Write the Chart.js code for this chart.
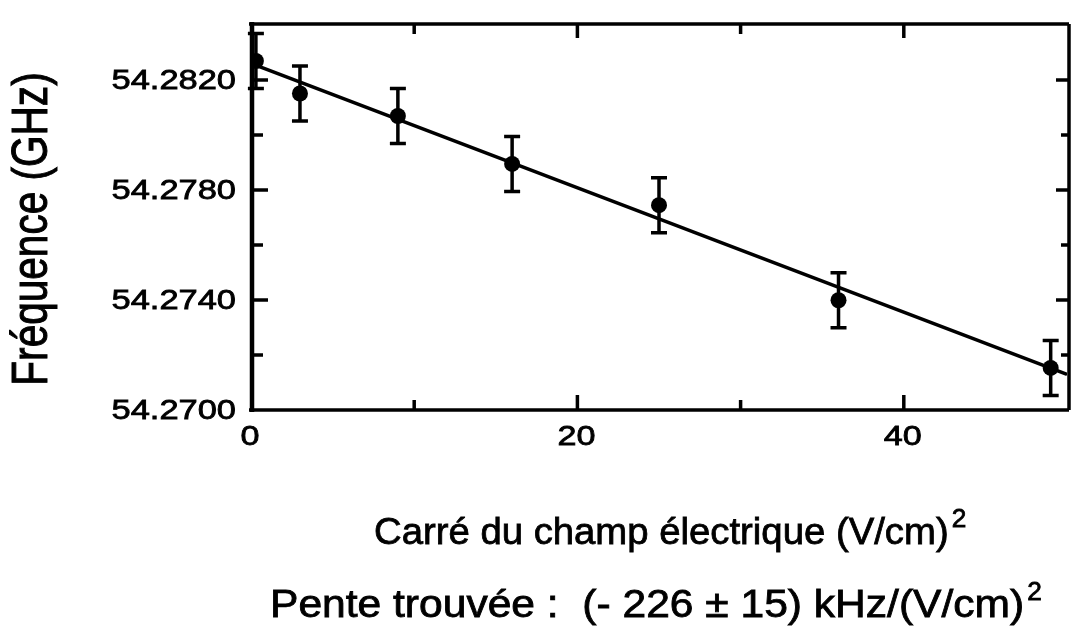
<!DOCTYPE html>
<html>
<head>
<meta charset="utf-8">
<script src="https://cdn.jsdelivr.net/npm/chart.js@4.4.0/dist/chart.umd.min.js"></script>
<style>
  html, body { margin: 0; padding: 0; background: #fff; overflow: hidden; }
  canvas { display: block; }
</style>
</head>
<body>
<canvas id="starkChart" width="1075" height="642"></canvas>
<script>
// Squared field (V/cm)^2 and measured line frequency (GHz)
const fieldSq = [0.3, 3, 9, 16, 25, 36, 49];
const freq = [54.28269, 54.28151, 54.28069, 54.27895, 54.27745, 54.27399, 54.27153];
const freqErr = [0.001, 0.001, 0.001, 0.001, 0.001, 0.001, 0.001];

// Linear fit, slope in kHz/(V/cm)^2
const fitSlopeKHz = -226;
const fitSlopeErr = 15;
const fitIntercept = 54.2826;
const fitRange = [0, 50];

// Axis ticks
const xLabelTicks = [0, 20, 40];
const xMajorTicks = [20, 40];
const xMinorTicks = [10, 30];
const yMajorTicks = [54.270, 54.274, 54.278, 54.282];
const yMinorTicks = [54.272, 54.276, 54.280];

const FONT = '"Liberation Sans", Arial, Helvetica, sans-serif';

// Text helper: horizontal stretch plus a light stroke to thicken glyphs
function drawText(ctx, str, x, y, size, sx, align) {
    ctx.save();
    ctx.translate(x, y);
    ctx.scale(sx, 1);
    ctx.font = size + 'px ' + FONT;
    ctx.textAlign = align;
    ctx.textBaseline = 'alphabetic';
    ctx.fillStyle = '#000';
    ctx.strokeStyle = '#000';
    ctx.lineWidth = 0.8;
    ctx.fillText(str, 0, 0);
    ctx.strokeText(str, 0, 0);
    ctx.restore();
}

function textWidth(ctx, str, size, sx) {
    ctx.save();
    ctx.font = size + 'px ' + FONT;
    const w = ctx.measureText(str).width * sx;
    ctx.restore();
    return w;
}

// Vertical error bars with caps
const errorBars = {
    id: 'errorBars',
    afterDatasetsDraw(chart) {
        const { ctx, scales: { x, y } } = chart;
        ctx.save();
        ctx.strokeStyle = '#000';
        ctx.lineWidth = 3.5;
        fieldSq.forEach((f, i) => {
            const px = x.getPixelForValue(f);
            const top = y.getPixelForValue(freq[i] + freqErr[i]);
            const bot = y.getPixelForValue(freq[i] - freqErr[i]);
            ctx.beginPath();
            ctx.moveTo(px, top); ctx.lineTo(px, bot);
            ctx.moveTo(px - 8, top); ctx.lineTo(px + 8, top);
            ctx.moveTo(px - 8, bot); ctx.lineTo(px + 8, bot);
            ctx.stroke();
        });
        ctx.restore();
    }
};

// Box frame, inward ticks, tick labels and titles
const frame = {
    id: 'frame',
    afterDraw(chart) {
        const { ctx, chartArea: a, scales: { x, y } } = chart;
        ctx.save();
        ctx.strokeStyle = '#000';

        const line = (x1, y1, x2, y2, w) => {
            ctx.lineWidth = w;
            ctx.beginPath();
            ctx.moveTo(x1, y1);
            ctx.lineTo(x2, y2);
            ctx.stroke();
        };

        // frame; the right edge sits just past the canvas
        const right = a.right + 2;
        line(a.left - 2, a.top - 1, right, a.top - 1, 3.5);
        line(a.left - 2, a.bottom, right, a.bottom, 3.5);
        line(right, a.top - 1, right, a.bottom, 3.5);
        line(a.left + 1, a.top - 3, a.left + 1, a.bottom + 2, 4.5);

        // x ticks, top and bottom
        xMajorTicks.forEach(v => {
            const px = x.getPixelForValue(v);
            line(px, a.bottom, px, a.bottom - 15, 3.5);
            line(px, a.top - 1, px, a.top + 13, 3.5);
        });
        xMinorTicks.forEach(v => {
            const px = x.getPixelForValue(v);
            line(px, a.bottom, px, a.bottom - 10, 3.5);
            line(px, a.top - 1, px, a.top + 9, 3.5);
        });

        // y ticks, left and right
        yMajorTicks.slice(1).forEach(v => {
            const py = y.getPixelForValue(v);
            line(a.left, py, a.left + 17, py, 3.5);
            line(right, py, right - 13, py, 3.5);
        });
        yMinorTicks.forEach(v => {
            const py = y.getPixelForValue(v);
            line(a.left, py, a.left + 12, py, 3.5);
            line(right, py, right - 8, py, 3.5);
        });

        // tick labels
        yMajorTicks.forEach(v => {
            drawText(ctx, v.toFixed(4), 236, y.getPixelForValue(v) + 9, 28, 1.23, 'right');
        });
        xLabelTicks.forEach(v => {
            drawText(ctx, String(v), x.getPixelForValue(v) - 1, 445, 28, 1.22, 'center');
        });

        // y title, rotated
        ctx.save();
        ctx.translate(47, 229);
        ctx.rotate(-Math.PI / 2);
        ctx.scale(1.04, 1.26);
        ctx.font = '39px ' + FONT;
        ctx.textAlign = 'center';
        ctx.fillStyle = '#000';
        ctx.strokeStyle = '#000';
        ctx.lineWidth = 0.8;
        ctx.fillText('Fréquence (GHz)', 0, 0);
        ctx.strokeText('Fréquence (GHz)', 0, 0);
        ctx.restore();

        // x title with superscript
        const xTitle = 'Carré du champ électrique (V/cm)';
        const xw = textWidth(ctx, xTitle, 37, 1.035);
        drawText(ctx, xTitle, 374, 544, 37, 1.035, 'left');
        drawText(ctx, '2', 374 + xw + 3, 527, 25, 1.05, 'left');

        // fitted slope note
        const note = 'Pente trouvée :  (- ' + Math.abs(fitSlopeKHz) + ' ± ' + fitSlopeErr + ') kHz/(V/cm)';
        const nw = textWidth(ctx, note, 38, 1.12);
        drawText(ctx, note, 270, 617, 38, 1.12, 'left');
        drawText(ctx, '2', 270 + nw + 3, 600, 25, 1.05, 'left');

        ctx.restore();
    }
};

const points = fieldSq.map((f, i) => ({ x: f, y: freq[i] }));
const fitLine = fitRange.map(f => ({ x: f, y: fitIntercept + fitSlopeKHz * 1e-6 * f }));

new Chart(document.getElementById('starkChart'), {
    type: 'scatter',
    data: {
        datasets: [
            {
                type: 'line',
                data: fitLine,
                borderColor: '#000',
                borderWidth: 3.5,
                pointRadius: 0,
                fill: false,
                order: 2
            },
            {
                type: 'scatter',
                data: points,
                backgroundColor: '#000',
                borderColor: '#000',
                pointRadius: 8,
                borderWidth: 0,
                order: 1
            }
        ]
    },
    options: {
        responsive: false,
        animation: false,
        devicePixelRatio: 1,
        layout: { padding: { left: 251, right: 0, top: 25, bottom: 232 } },
        plugins: {
            legend: { display: false },
            tooltip: { enabled: false }
        },
        scales: {
            x: { type: 'linear', display: false, min: 0, max: 50 },
            y: { type: 'linear', display: false, min: 54.270, max: 54.284 }
        }
    },
    plugins: [errorBars, frame]
});
</script>
</body>
</html>
